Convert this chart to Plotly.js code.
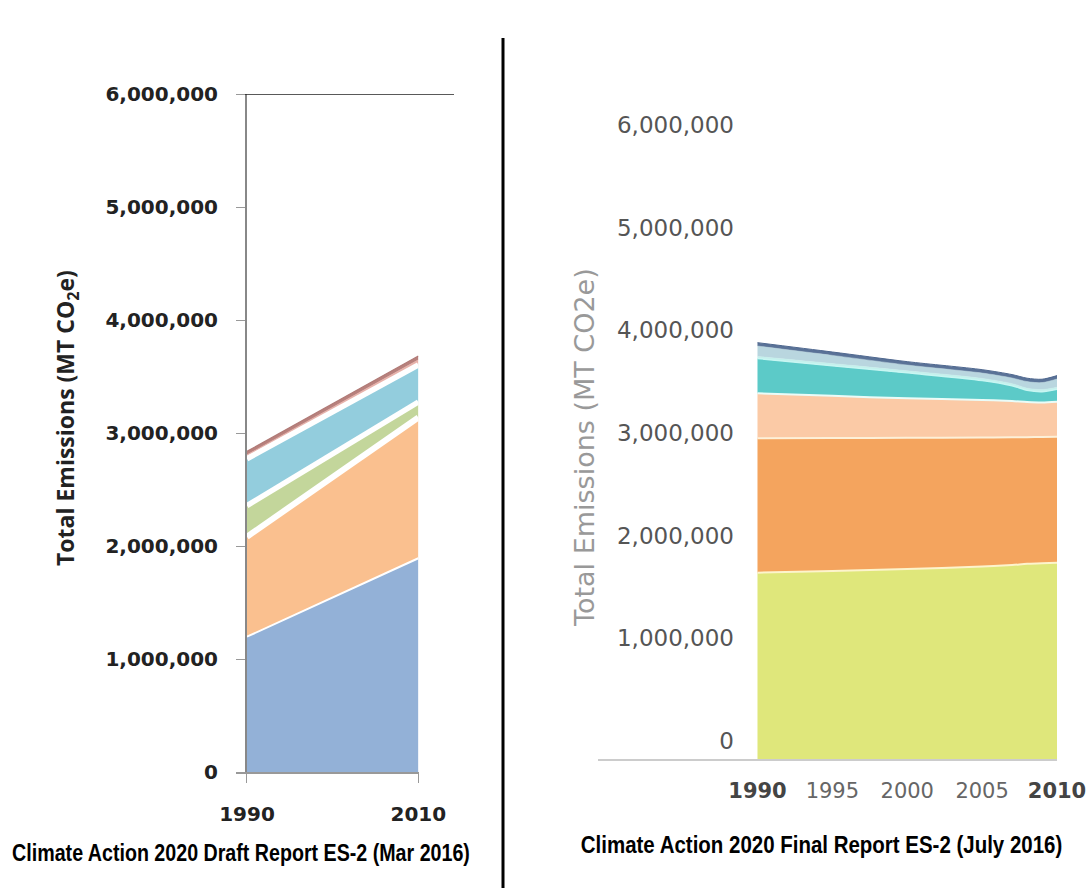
<!DOCTYPE html>
<html><head><meta charset="utf-8">
<script src="https://cdn.plot.ly/plotly-3.0.1.min.js"></script>
<style>html,body{margin:0;padding:0;background:#fff;} #chart{width:1088px;height:888px;}</style>
</head><body><div id="chart"></div>
<script>
// ---- Draft report (Mar 2016) ----
const draftYears = [1990, 2010];
const draftSeriesA = [1200000, 1894000];   // blue
const draftSeriesB = [885000, 1246000];    // orange
const draftSeriesC = [275000, 137000];     // green
const draftSeriesD = [415000, 328000];     // light blue
const draftSeriesE = [35000, 45000];       // pink
const draftSeriesF = [30000, 35000];       // brown
const draftXTicks = [1990, 2010];
const yTicks = [0, 1000000, 2000000, 3000000, 4000000, 5000000, 6000000];

// ---- Final report (July 2016) ----
const finalYears = [1990, 1995, 2000, 2005, 2007, 2008, 2009, 2010];
const finalGreen = [1814000, 1830000, 1850000, 1875000, 1890000, 1900000, 1905000, 1911000];
const finalOrange = [1309000, 1295000, 1278000, 1255000, 1242000, 1234000, 1231000, 1227000];
const finalPeach = [438000, 411000, 384000, 366000, 353000, 342000, 336000, 341000];
const finalTeal = [339000, 294000, 248000, 190000, 150000, 115000, 105000, 121000];
const finalPaleCyan = [20000, 20000, 20000, 20000, 20000, 20000, 20000, 20000];
const finalLightBlue = [101000, 80000, 56000, 52000, 55000, 64000, 68000, 80000];
const finalNavy = [33000, 33000, 33000, 33000, 33000, 33000, 33000, 33000];
const finalXTicks = [1990, 1995, 2000, 2005, 2010];
const finalXTickText = ['<b><span style="color:#444">1990</span></b>', '1995', '2000', '2005', '<b><span style="color:#444">2010</span></b>'];

const W = 1088, H = 888;
const px = v => v / W;
const py = v => 1 - v / H;

function draftTrace(y, color, lineColor, lineWidth) {
  return {x: draftYears, y: y, type: 'scatter', mode: 'lines', stackgroup: 'draft',
    fillcolor: color, line: {color: lineColor, width: lineWidth}, xaxis: 'x', yaxis: 'y', hoverinfo: 'skip'};
}
function finalTrace(y, color, lineColor, lineWidth) {
  return {x: finalYears, y: y, type: 'scatter', mode: 'lines', stackgroup: 'final',
    fillcolor: color, line: {color: lineColor, width: lineWidth, shape: 'spline', smoothing: 0.8},
    xaxis: 'x2', yaxis: 'y2', hoverinfo: 'skip'};
}

const data = [
  draftTrace(draftSeriesA, '#93b1d7', '#ffffff', 2),
  draftTrace(draftSeriesB, '#fac08f', '#ffffff', 6),
  draftTrace(draftSeriesC, '#c3d69b', '#ffffff', 5.5),
  draftTrace(draftSeriesD, '#93cddd', '#ffffff', 5.5),
  draftTrace(draftSeriesE, '#e8b2aa', '#e8b2aa', 0.5),
  draftTrace(draftSeriesF, '#b8817d', '#b07a76', 1.2),
  finalTrace(finalGreen, '#dfe77b', '#fdf4cc', 2),
  finalTrace(finalOrange, '#f4a45e', '#fdf0d8', 2),
  finalTrace(finalPeach, '#fbcaa6', '#eafcf8', 2),
  finalTrace(finalTeal, '#5ccac8', '#c8f6f2', 1.5),
  finalTrace(finalPaleCyan, '#c4f0ec', '#c4f0ec', 0.5),
  finalTrace(finalLightBlue, '#b9d6df', '#b9d6df', 0.5),
  finalTrace(finalNavy, '#5a7297', '#4f688f', 1)
];

const layout = {
  width: W, height: H,
  margin: {l: 0, r: 0, t: 0, b: 0},
  paper_bgcolor: '#ffffff', plot_bgcolor: 'rgba(0,0,0,0)',
  showlegend: false,
  xaxis: {
    domain: [px(236), px(418.5)], range: [1988.72, 2010.02], anchor: 'y',
    tickvals: draftXTicks, ticktext: draftXTicks.map(String),
    ticks: 'outside', ticklen: 9, tickcolor: '#999', tickwidth: 1,
    showgrid: false, zeroline: false, showline: true, linecolor: '#999', linewidth: 1.5,
    tickfont: {family: 'DejaVu Sans', size: 20, color: '#222', weight: 'bold'},
    ticklabelstandoff: 14
  },
  yaxis: {
    domain: [py(772.3), py(94.3)], range: [0, 6000000], anchor: 'free', position: px(245),
    tickvals: yTicks, tickformat: ',d',
    ticks: 'outside', ticklen: 9, tickcolor: '#999', tickwidth: 1,
    showgrid: false, zeroline: false, showline: true, linecolor: '#888', linewidth: 1.5,
    tickfont: {family: 'DejaVu Sans', size: 20, color: '#222', weight: 'bold'},
    ticklabelstandoff: 14
  },
  xaxis2: {
    domain: [px(598), px(1057)], range: [1979.35, 2010], anchor: 'y2',
    tickvals: finalXTicks, ticktext: finalXTickText,
    ticks: '', showgrid: false, zeroline: false, showline: true, linecolor: '#cccccc', linewidth: 2,
    tickfont: {family: 'DejaVu Sans', size: 21, color: '#666'},
    ticklabelstandoff: 12
  },
  yaxis2: {
    domain: [py(759), py(142.8)], range: [0, 6000000], anchor: 'free', position: px(734),
    tickvals: yTicks, tickformat: ',d', ticks: '',
    showgrid: false, zeroline: false, showline: false,
    tickfont: {family: 'DejaVu Sans', size: 23, color: '#555'},
    ticklabelshift: -18
  },
  shapes: [
    {type: 'line', xref: 'paper', yref: 'y', x0: px(245), x1: px(454), y0: 6000000, y1: 6000000,
      line: {color: '#222', width: 1.5}},
    {type: 'line', xref: 'paper', yref: 'paper', x0: px(503), x1: px(503), y0: py(38), y1: 0,
      line: {color: '#000', width: 3}}
  ],
  annotations: [
    {xref: 'paper', yref: 'paper', x: px(67), y: py(418), text: 'Total Emissions (MT CO<sub>2</sub>e)',
      textangle: -90, showarrow: false, xanchor: 'center', yanchor: 'middle',
      font: {family: 'Open Sans', size: 23, color: '#222', weight: 'bold'}},
    {xref: 'paper', yref: 'paper', x: px(585), y: py(448), text: 'Total Emissions (MT CO2e)',
      textangle: -90, showarrow: false, xanchor: 'center', yanchor: 'middle',
      font: {family: 'DejaVu Sans', size: 27, color: '#999'}},
    {xref: 'paper', yref: 'paper', x: px(241), y: py(853), text: 'Climate Action 2020 Draft Report ES-2 (Mar 2016)',
      showarrow: false, xanchor: 'center', yanchor: 'middle',
      font: {family: 'Liberation Sans', size: 23, color: '#000', weight: 'bold'}},
    {xref: 'paper', yref: 'paper', x: px(821), y: py(845), text: 'Climate Action 2020 Final Report ES-2 (July 2016)',
      showarrow: false, xanchor: 'center', yanchor: 'middle',
      font: {family: 'Liberation Sans', size: 23, color: '#000', weight: 'bold'}}
  ]
};

const captionScale = {'Draft': 0.855, 'Final': 0.89};

Plotly.newPlot('chart', data, layout, {staticPlot: true, displayModeBar: false}).then(function (gd) {
  // condensed look for the two report captions
  gd.querySelectorAll('.annotation-text').forEach(function (t) {
    const s = t.textContent;
    if (s.indexOf('Climate Action') === 0) {
      const k = s.indexOf('Draft') >= 0 ? captionScale.Draft : captionScale.Final;
      t.style.transformBox = 'fill-box';
      t.style.transformOrigin = 'center';
      t.style.transform = 'scaleX(' + k + ')';
    }
  });
});
</script>
</body></html>
